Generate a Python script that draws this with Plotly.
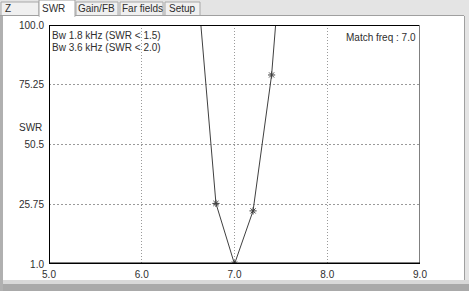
import plotly.graph_objects as go

# ---- data ----
freq = [6.6, 6.8, 7.0, 7.2, 7.4, 7.6]
swr = [117.0, 26.1, 1.0, 23.0, 79.3, 175.0]
x_ticks = [5.0, 6.0, 7.0, 8.0, 9.0]
x_tick_text = ["5.0", "6.0", "7.0", "8.0", "9.0"]
y_ticks = [1.0, 25.75, 50.5, 75.25, 100.0]
y_tick_text = ["1.0", "25.75", "50.5", "75.25", "100.0"]
tab_labels = ["Z", "SWR", "Gain/FB", "Far fields", "Setup"]
info_lines = ["Bw 1.8 kHz (SWR < 1.5)", "Bw 3.6 kHz (SWR < 2.0)"]
match_text = "Match freq : 7.0"

W, H = 469, 291
L, R, T, B = 49, 420, 25, 264


def px(x):
    return (x - L) / (R - L)


def py(y):
    return (B - y) / (B - T)


FONT = "Liberation Sans"
TXT = "#2e2e2e"

fig = go.Figure()
fig.add_trace(go.Scatter(
    x=freq, y=swr, mode="lines+markers",
    line=dict(color="#404040", width=1),
    marker=dict(symbol="asterisk-open", size=6, color="#404040",
                line=dict(color="#404040", width=1)),
    cliponaxis=True, showlegend=False, hoverinfo="skip",
))

shapes = []


def rect(x0, y0, x1, y1, fill, line=None, lw=0, layer="below"):
    shapes.append(dict(type="rect", xref="paper", yref="paper",
                       x0=px(x0), x1=px(x1), y0=py(y0), y1=py(y1),
                       fillcolor=fill, layer=layer,
                       line=dict(color=line or fill, width=lw)))


def hline(x0, x1, y, color, w=1, layer="above"):
    shapes.append(dict(type="line", xref="paper", yref="paper",
                       x0=px(x0), x1=px(x1), y0=py(y), y1=py(y),
                       line=dict(color=color, width=w), layer=layer))


def vline(x, y0, y1, color, w=1, layer="above"):
    shapes.append(dict(type="line", xref="paper", yref="paper",
                       x0=px(x), x1=px(x), y0=py(y0), y1=py(y1),
                       line=dict(color=color, width=w), layer=layer))


# window chrome
rect(0, 0, W, 16, "#e4e4e4")
rect(464, 16, W, H, "#e4e4e4")
vline(464.5, 16, 280, "#a0a0a0")
rect(0, 280, W, H, "#d8d8d8")
rect(0, 284, W, H, "#a9a9a9")
rect(0, 16, 3, H, "#b0b0b0")
hline(0, 464, 15.5, "#a0a0a0")
tabs = [(1, 39), (39, 75), (76, 118), (120, 163), (165, 200)]
for i, (a, b) in enumerate(tabs):
    if i == 1:
        rect(a, 0, b, 16.5, "#ffffff", "#a0a0a0", 1)
        hline(a + 0.5, b - 0.5, 16, "#ffffff", 2)
    else:
        rect(a, 2, b, 15.5, "#f0f0f0", "#a8a8a8", 1)

# plot frame
hline(L, R, T + 0.5, "#000000", 1)
vline(L + 0.5, T, B, "#000000", 1)
vline(R - 0.5, T, B, "#808080", 1)
hline(L, R, B - 0.75, "#000000", 1.5)

annotations = []
tab_centers = [8, 53, 96, 142, 182]
for lab, cx in zip(tab_labels, tab_centers):
    annotations.append(dict(xref="paper", yref="paper", x=px(cx), y=py(8),
                            text=lab, showarrow=False, xanchor="center",
                            yanchor="middle",
                            font=dict(family=FONT, size=10, color=TXT)))
for i, t in enumerate(info_lines):
    annotations.append(dict(xref="paper", yref="paper", x=px(51),
                            y=py(36 + 11 * i), text=t, showarrow=False,
                            xanchor="left", yanchor="middle", borderpad=0,
                            font=dict(family=FONT, size=10, color=TXT)))
annotations.append(dict(xref="paper", yref="paper", x=px(418), y=py(37),
                        text=match_text, showarrow=False, xanchor="right",
                        yanchor="middle",
                        font=dict(family=FONT, size=10, color=TXT)))
annotations.append(dict(xref="paper", yref="paper", x=px(44), y=py(127),
                        text="SWR", showarrow=False, xanchor="right",
                        yanchor="middle",
                        font=dict(family=FONT, size=10, color=TXT)))

fig.update_layout(
    width=W, height=H,
    margin=dict(l=L, r=W - R, t=T, b=H - B, pad=0, autoexpand=False),
    paper_bgcolor="#ffffff", plot_bgcolor="#ffffff",
    shapes=shapes, annotations=annotations,
    font=dict(family=FONT, size=10, color=TXT),
    xaxis=dict(range=[5, 9], tickvals=x_ticks, ticktext=x_tick_text,
               showgrid=True, gridcolor="#9a9a9a", griddash="1px,2px",
               gridwidth=1, zeroline=False, showline=False, ticks="",
               ticklabelstandoff=3, automargin=False,
               tickfont=dict(family=FONT, size=10, color=TXT)),
    yaxis=dict(range=[1, 100], tickvals=y_ticks, ticktext=y_tick_text,
               showgrid=True, gridcolor="#9a9a9a", griddash="2px,2px",
               gridwidth=1, zeroline=False, showline=False, ticks="",
               ticklabelstandoff=4, automargin=False,
               tickfont=dict(family=FONT, size=10, color=TXT)),
)

fig.write_html(
    "out.html",
    config={"displayModeBar": False},
    post_script="document.body.style.margin='0';"
                "document.body.style.overflow='hidden';",
)
